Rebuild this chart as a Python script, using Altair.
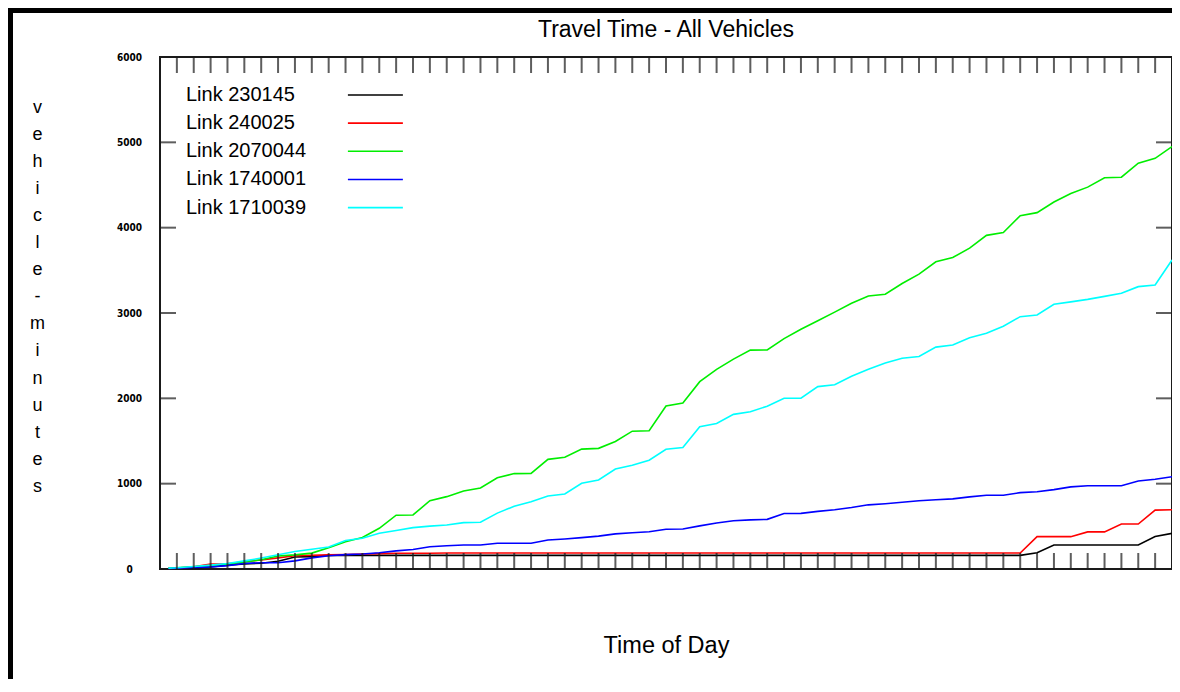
import altair as alt
import pandas as pd

# ---- data ----
series_names = ["Link 230145", "Link 240025", "Link 2070044", "Link 1740001", "Link 1710039"]
series_colors = ["#000000", "#ff0000", "#00ee00", "#0000ff", "#00ffff"]

x_vals = [0.5] + list(range(1, 61))

link_230145 = [5, 8, 15, 25, 45, 60, 68, 90, 140, 145, 160, 160, 160, 160, 160, 160, 160, 160, 160, 160,
               160, 160, 160, 160, 160, 160, 160, 160, 160, 160, 160, 160, 160, 160, 160, 160, 160, 160, 160, 160,
               160, 160, 160, 160, 160, 160, 160, 160, 160, 160, 160, 160, 190, 281, 281, 281, 281, 281, 281, 380, 418]
link_240025 = [5, 10, 25, 58, 62, 85, 105, 130, 155, 162, 166, 170, 175, 180, 184, 184, 184, 188, 188, 188,
               188, 188, 188, 188, 188, 188, 188, 188, 188, 188, 188, 188, 188, 188, 188, 188, 188, 188, 188, 188,
               188, 188, 188, 188, 188, 188, 188, 188, 188, 188, 188, 188, 379, 379, 379, 435, 435, 527, 527, 690, 695]
link_2070044 = [10, 15, 27, 39, 59, 80, 108, 152, 166, 186, 250, 320, 370, 477, 630, 633, 800, 848, 915, 950,
                1070, 1118, 1121, 1285, 1309, 1405, 1414, 1495, 1615, 1621, 1910, 1945, 2195, 2340, 2460, 2565, 2567, 2700, 2810, 2910,
                3010, 3115, 3200, 3220, 3345, 3455, 3600, 3650, 3760, 3910, 3942, 4140, 4176, 4300, 4400, 4475, 4585, 4591, 4755, 4813, 4950]
link_1740001 = [5, 10, 18, 25, 40, 65, 74, 74, 95, 130, 155, 168, 176, 190, 212, 228, 260, 272, 281, 281,
                301, 301, 301, 340, 352, 368, 385, 412, 425, 437, 465, 469, 505, 540, 565, 576, 582, 650, 652, 675,
                695, 720, 752, 765, 782, 800, 812, 822, 845, 864, 864, 895, 905, 930, 962, 976, 976, 976, 1031, 1051, 1082]
link_1710039 = [10, 15, 30, 45, 65, 95, 128, 168, 205, 232, 258, 335, 360, 418, 452, 485, 502, 515, 543, 548,
                655, 735, 789, 856, 879, 1005, 1043, 1172, 1215, 1275, 1403, 1424, 1668, 1705, 1812, 1842, 1908, 2001, 2001, 2137,
                2160, 2258, 2340, 2415, 2470, 2490, 2600, 2625, 2710, 2762, 2845, 2957, 2977, 3102, 3130, 3160, 3195, 3231, 3309, 3328, 3621]

x_tick_values = list(range(1, 60))
y_tick_values = [1000, 2000, 3000, 4000, 5000]
y_label_values = [0, 1000, 2000, 3000, 4000, 5000, 6000]
y_title_letters = list("vehicle-minutes")

X_MIN, X_MAX = 0, 60
Y_MIN, Y_MAX = 0, 6000

# ---- build tables ----
all_series = [link_230145, link_240025, link_2070044, link_1740001, link_1710039]
rows = []
for k, (name, vals) in enumerate(zip(series_names, all_series)):
    for x, v in zip(x_vals, vals):
        rows.append({"t": x, "v": v, "series": name, "k": k})
df = pd.DataFrame(rows)

leg = pd.DataFrame({
    "series": series_names,
    "k": list(range(len(series_names))),
})
leg["ly"] = 5555 - leg["k"] * 330
leg["lx"] = 1.54
leg["sx"] = 11.14
leg["sx2"] = 14.4

xt = pd.DataFrame({"t": x_tick_values})
xt["ybot"] = Y_MIN
xt["ytop"] = Y_MAX
yt = pd.DataFrame({"v": y_tick_values})
yt["xl"] = X_MIN
yt["xr"] = X_MAX

XS = alt.Scale(domain=[X_MIN, X_MAX], nice=False, zero=False)
YS = alt.Scale(domain=[Y_MIN, Y_MAX], nice=False)
CS = alt.Scale(domain=series_names, range=series_colors)
TICK = "#1a1a1a"
FONT = "Liberation Sans, Arial, sans-serif"

XAX = alt.Axis(
    title="Time of Day", labels=False, ticks=False, domain=False, grid=False,
    titleFontSize=23.5, titleFont=FONT, titleFontWeight="normal", titleColor="#000",
    titleY=76, titleBaseline="middle")
YAX = alt.Axis(
    values=y_label_values, format="d", ticks=False, tickSize=0, domain=False, grid=False,
    labelPadding=31, labelAlign="center", labelBaseline="middle",
    labelFontSize=10, labelFontWeight="bold", labelColor="#000",
    labelFont="Liberation Sans Narrow, DejaVu Sans Condensed, Liberation Sans",
    title=y_title_letters, titleAngle=0, titleFontSize=18, titleFont=FONT,
    titleFontWeight="normal", titleColor="#000", titleLineHeight=27.1,
    titleAlign="center", titleBaseline="middle", titleX=-123, titleY=50)


def X(f):
    return alt.X(f, type="quantitative", scale=XS, axis=XAX)


def Y(f):
    return alt.Y(f, type="quantitative", scale=YS, axis=YAX)


lines = alt.Chart(df).mark_line(strokeWidth=1.6, interpolate="linear").encode(
    x=X("t"), y=Y("v"),
    color=alt.Color("series:N", scale=CS, legend=None),
    detail="k:O",
)

bottom_ticks = alt.Chart(xt).mark_tick(orient="vertical", size=16, thickness=2, yOffset=-8, color=TICK).encode(
    x=X("t"), y=Y("ybot"))
top_ticks = alt.Chart(xt).mark_tick(orient="vertical", size=16, thickness=2, yOffset=8, color=TICK).encode(
    x=X("t"), y=Y("ytop"))
left_ticks = alt.Chart(yt).mark_tick(orient="horizontal", size=16, thickness=2, xOffset=8, color=TICK).encode(
    y=Y("v"), x=X("xl"))
right_ticks = alt.Chart(yt).mark_tick(orient="horizontal", size=16, thickness=2, xOffset=-8, color=TICK).encode(
    y=Y("v"), x=X("xr"))

leg_text = alt.Chart(leg).mark_text(align="left", baseline="middle", fontSize=20, font=FONT, color="#000").encode(
    x=X("lx"), y=Y("ly"), text="series:N")
leg_line = alt.Chart(leg).mark_rule(strokeWidth=1.6).encode(
    x=X("sx"), x2="sx2:Q", y=Y("ly"),
    color=alt.Color("series:N", scale=CS, legend=None))

frame = alt.Chart(pd.DataFrame({"a": [0]})).mark_rect(filled=False, stroke="#000", strokeWidth=6).encode(
    x=alt.value(-150), x2=alt.value(1040), y=alt.value(-47), y2=alt.value(720))

chart = alt.layer(
    frame, lines, bottom_ticks, top_ticks, left_ticks, right_ticks, leg_line, leg_text
).properties(
    width=1012, height=512,
    autosize=alt.AutoSizeParams(type="none"),
    padding={"left": 152, "top": 49, "right": 0, "bottom": 110},
    title=alt.TitleParams("Travel Time - All Vehicles", anchor="middle", fontSize=23, font=FONT,
                          fontWeight="normal", color="#000", frame="group", offset=-35),
    background="white",
).configure_view(stroke="#1a1a1a", strokeWidth=2)

chart.save("out.html", embed_options={"renderer": "svg", "actions": False})
